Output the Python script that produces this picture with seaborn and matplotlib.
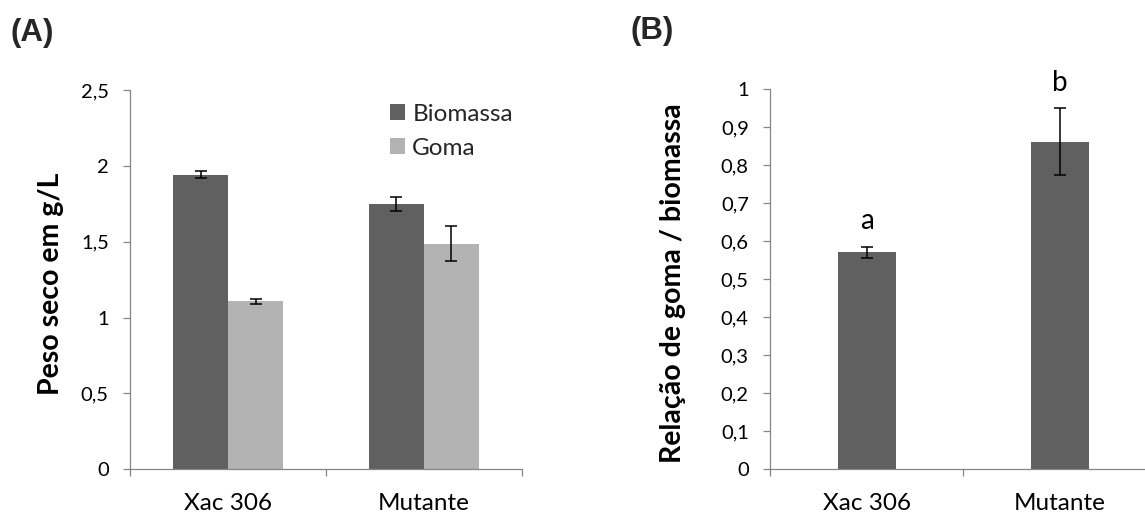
import matplotlib
matplotlib.use("Agg")
import matplotlib.pyplot as plt
from matplotlib.ticker import FixedLocator, FuncFormatter
import numpy as np
import pandas as pd
import seaborn as sns

# ── data ──────────────────────────────────────────────────────────────────────
strains = ["Xac 306", "Mutante"]
components = ["Biomassa", "Goma"]
biomassa = [1.943, 1.748]
biomassa_err = [0.025, 0.048]
goma = [1.106, 1.488]
goma_err = [0.016, 0.117]

ratio = [0.570, 0.861]
ratio_err = [0.014, 0.088]
ratio_letters = ["a", "b"]

yticks_a = [0, 0.5, 1, 1.5, 2, 2.5]
yticks_b = [0, 0.1, 0.2, 0.3, 0.4, 0.5, 0.6, 0.7, 0.8, 0.9, 1]

DARK = "#606060"
LIGHT = "#B3B3B3"
AXIS_GREY = "#868686"

# ── canvas ────────────────────────────────────────────────────────────────────
sns.set_theme(style="white")
plt.rcParams["font.family"] = ["Lato", "DejaVu Sans"]
fig = plt.figure(figsize=(11.45, 5.13), dpi=100)

ax_a = fig.add_axes([0.1138, 0.0858, 0.3418, 0.7382])
ax_b = fig.add_axes([0.6728, 0.0858, 0.3371, 0.7407])


def comma(v, _):
    s = f"{v:g}"
    return s.replace(".", ",")


def style_ax(ax, yticks):
    sns.despine(ax=ax)
    for side in ("left", "bottom"):
        ax.spines[side].set_color(AXIS_GREY)
        ax.spines[side].set_linewidth(0.9)
    ax.set_xlim(-0.5, 1.5)
    ax.set_ylim(yticks[0], yticks[-1])
    ax.yaxis.set_major_locator(FixedLocator(yticks))
    ax.yaxis.set_major_formatter(FuncFormatter(comma))
    ax.tick_params(axis="y", left=True, length=5, width=0.9, color=AXIS_GREY,
                   direction="out", pad=10.5, labelsize=14.5, labelcolor="black")
    # category labels without ticks, boundary ticks as minor
    ax.tick_params(axis="x", which="major", length=0, pad=17,
                   labelsize=17.5, labelcolor="black")
    ax.xaxis.set_minor_locator(FixedLocator([-0.5, 0.5, 1.5]))
    ax.tick_params(axis="x", which="minor", bottom=True, length=5, width=0.9,
                   color=AXIS_GREY, direction="out")
    ax.set_xlabel("")
    ax.grid(False)


# ── Panel A ───────────────────────────────────────────────────────────────────
df_a = pd.DataFrame({
    "strain": strains * 2,
    "component": [components[0]] * 2 + [components[1]] * 2,
    "value": biomassa + goma,
})
sns.barplot(data=df_a, x="strain", y="value", hue="component",
            order=strains, hue_order=components, palette=[DARK, LIGHT],
            width=0.562, errorbar=None, saturation=1, linewidth=0, ax=ax_a)
for cont, errs in zip(ax_a.containers, [biomassa_err, goma_err]):
    xs = [p.get_x() + p.get_width() / 2 for p in cont.patches]
    hs = [p.get_height() for p in cont.patches]
    ax_a.errorbar(xs, hs, yerr=errs, fmt="none", ecolor="black",
                  elinewidth=1.1, capsize=4.5, capthick=1.1)
style_ax(ax_a, yticks_a)
ax_a.set_ylabel("Peso seco em g/L", fontsize=20.5, fontweight="bold", color="black")
ax_a.yaxis.set_label_coords(-0.17, 0.49)
handles, labels = ax_a.get_legend_handles_labels()
ax_a.legend(handles, labels, loc="upper left", bbox_to_anchor=(0.6635, 0.965),
            frameon=False, fontsize=17.5, borderpad=0, borderaxespad=0,
            handlelength=0.62, handleheight=0.62, handletextpad=0.3,
            labelspacing=0.55)

# ── Panel B ───────────────────────────────────────────────────────────────────
sns.barplot(x=strains, y=ratio, order=strains, color=DARK, width=0.304,
            errorbar=None, saturation=1, linewidth=0, ax=ax_b)
bars = ax_b.containers[0].patches
xs_b = [p.get_x() + p.get_width() / 2 for p in bars]
ax_b.errorbar(xs_b, ratio, yerr=ratio_err, fmt="none", ecolor="black",
              elinewidth=1.1, capsize=4.5, capthick=1.1)
for x, v, e, letter in zip(xs_b, ratio, ratio_err, ratio_letters):
    ax_b.text(x, v + e + 0.068, letter, ha="center", va="center",
              fontsize=20, color="black")
style_ax(ax_b, yticks_b)
ax_b.set_ylabel("Relação de goma / biomassa", fontsize=20.5, fontweight="bold",
                color="black")
ax_b.yaxis.set_label_coords(-0.218, 0.49)

# ── panel tags ────────────────────────────────────────────────────────────────
fig.text(11 / 1145, 1 - 33 / 513, "(A)", fontsize=22.5, fontweight="bold",
         family="Liberation Sans", ha="left", va="center")
fig.text(631 / 1145, 1 - 31 / 513, "(B)", fontsize=22.5, fontweight="bold",
         family="Liberation Sans", ha="left", va="center")

fig.savefig("out.png", dpi=100, facecolor="white")
